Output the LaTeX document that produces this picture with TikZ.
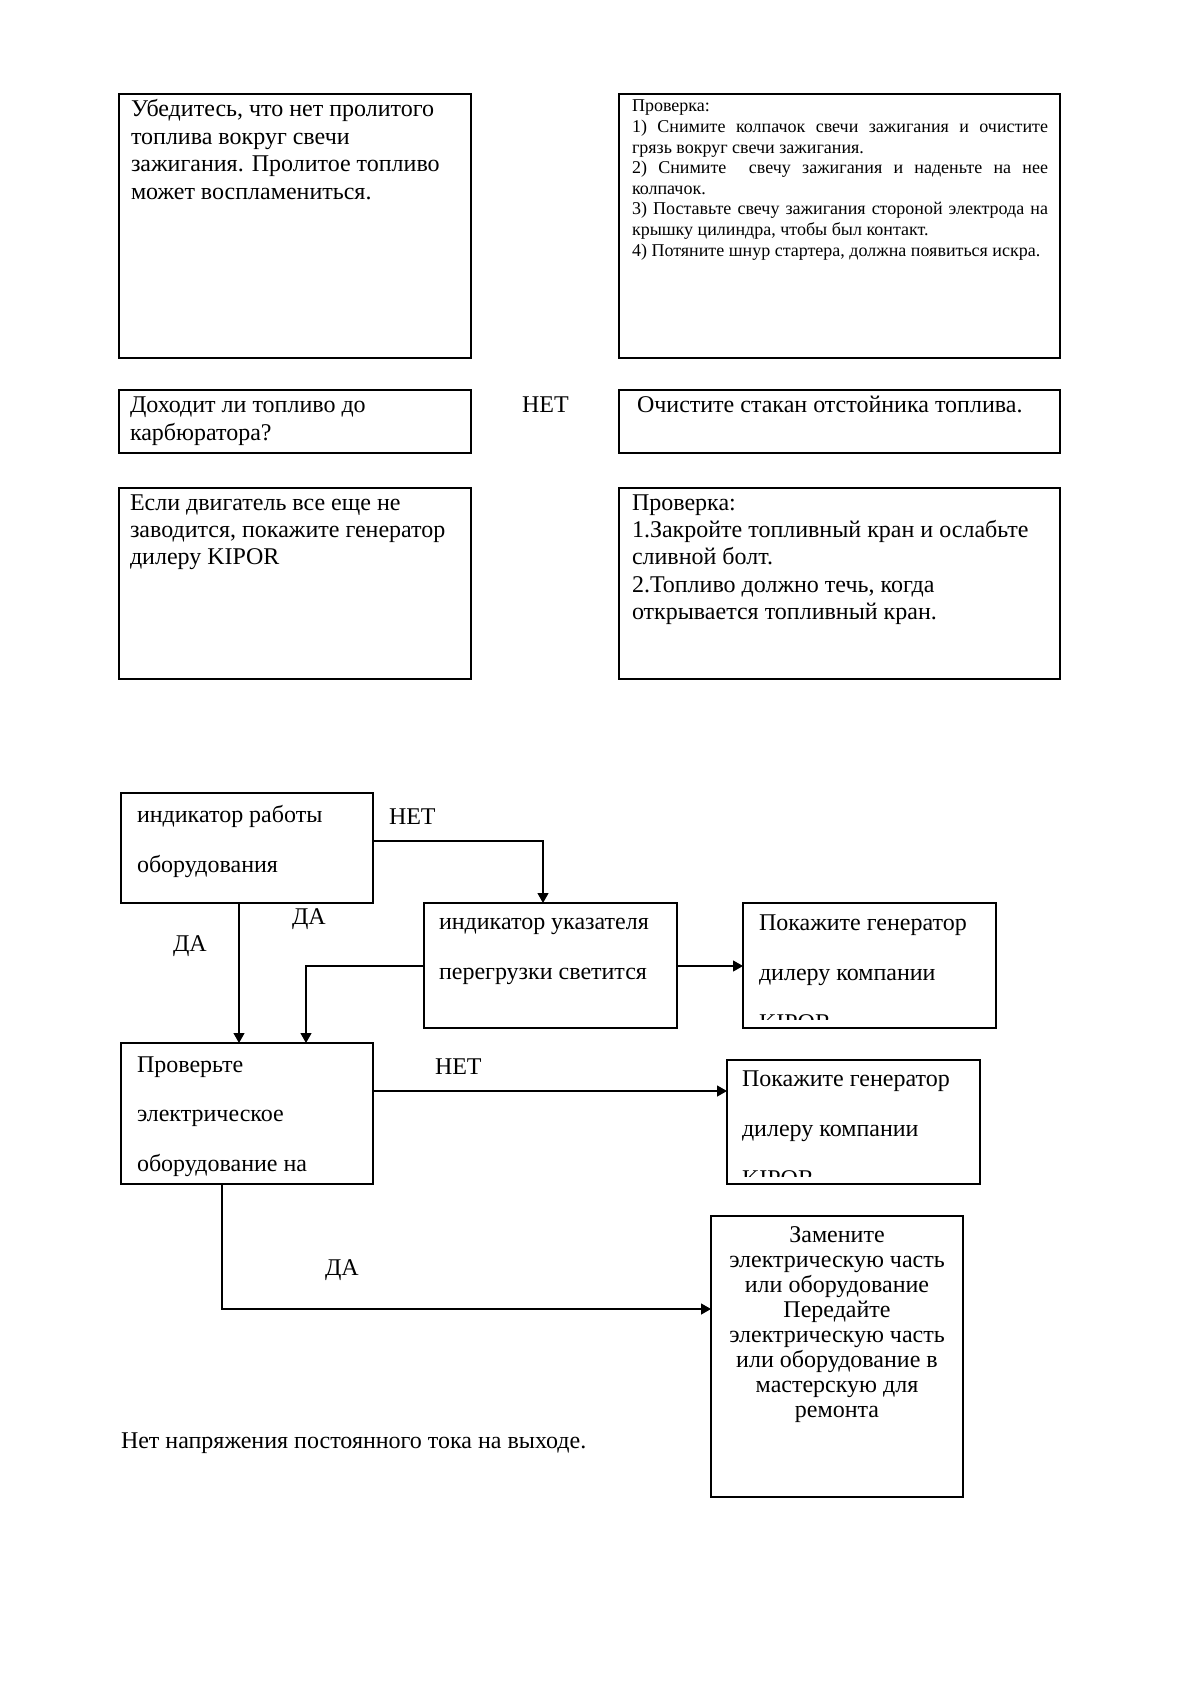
\documentclass[tikz,border=0pt]{standalone}
\usepackage{fontspec}
\setmainfont{Liberation Serif}
\usetikzlibrary{arrows.meta}
\begin{document}
\begin{tikzpicture}[x=0.5pt,y=-0.5pt,
  box/.style={draw, line width=0.8pt, anchor=north west, inner sep=0pt, outer sep=0pt},
  fbox/.style={draw, line width=0.65pt, anchor=north west, inner sep=0pt, outer sep=0pt},
  txt/.style={inner sep=0pt, outer sep=0pt, anchor=base west, font=\fontsize{12}{13.7}\selectfont},
  smalltxt/.style={txt, font=\fontsize{9}{10.3}\selectfont},
  widetxt/.style={txt, font=\fontsize{12}{25}\selectfont},
  lbl/.style={txt},
  conn/.style={line width=0.6pt},
  arr/.style={conn, -{Triangle[length=5pt,width=5.5pt]}}]
\useasboundingbox (0,0) rectangle (1191,1684);

% ---------- upper part ----------
\node[box, minimum width=176pt, minimum height=132pt] (b1) at (119,94) {};
\node[box, minimum width=220.5pt, minimum height=132pt] (b2) at (619,94) {};
\node[box, minimum width=176pt, minimum height=31.5pt] (b3) at (119,390) {};
\node[box, minimum width=220.5pt, minimum height=31.5pt] (b4) at (619,390) {};
\node[box, minimum width=176pt, minimum height=95.5pt] (b5) at (119,488) {};
\node[box, minimum width=220.5pt, minimum height=95.5pt] (b6) at (619,488) {};

\node[txt] (t1) at (131,117) {\begin{tabular}[t]{@{}l@{}}
Убедитесь, что нет пролитого\\
топлива вокруг свечи\\
зажигания. Пролитое топливо\\
может воспламениться.\end{tabular}};

\node[smalltxt] (t2) at (632,112) {\begin{tabular}[t]{@{}l@{}}
Проверка:\\
\makebox[208pt][s]{1) Снимите колпачок свечи зажигания и очистите}\\
грязь вокруг свечи зажигания.\\
\makebox[208pt][s]{2) Снимите\ \ свечу зажигания и наденьте на нее}\\
колпачок.\\
\makebox[208pt][s]{3) Поставьте свечу зажигания стороной электрода на}\\
крышку цилиндра, чтобы был контакт.\\
4) Потяните шнур стартера, должна появиться искра.\end{tabular}};

\node[txt] (t3) at (130,413) {\begin{tabular}[t]{@{}l@{}}
Доходит ли топливо до\\
карбюратора?\end{tabular}};

\node[lbl] (net0) at (522,413) {НЕТ};

\node[txt] (t4) at (637,413) {Очистите стакан отстойника топлива.};

\node[txt] (t5) at (130,510) {\begin{tabular}[t]{@{}l@{}}
Если двигатель все еще не\\
заводится, покажите генератор\\
дилеру KIPOR\end{tabular}};

\node[txt] (t6) at (632,510) {\begin{tabular}[t]{@{}l@{}}
Проверка:\\
1.Закройте топливный кран и ослабьте\\
сливной болт.\\
2.Топливо должно течь, когда\\
открывается топливный кран.\end{tabular}};

% ---------- lower part ----------
\node[fbox, minimum width=126pt, minimum height=55pt] (A) at (121,793) {};
\node[fbox, minimum width=126.5pt, minimum height=62.5pt] (B) at (424,903) {};
\node[fbox, minimum width=126.5pt, minimum height=62.5pt] (C) at (743,903) {};
\node[fbox, minimum width=126pt, minimum height=70.5pt] (D) at (121,1043) {};
\node[fbox, minimum width=126.5pt, minimum height=62pt] (E) at (727,1060) {};
\node[fbox, minimum width=126pt, minimum height=140.5pt] (F) at (711,1216) {};

\node[widetxt] (tA) at (137,822) {\begin{tabular}[t]{@{}l@{}}
индикатор работы\\
оборудования\end{tabular}};
\node[widetxt] (tB) at (439,929) {\begin{tabular}[t]{@{}l@{}}
индикатор указателя\\
перегрузки светится\end{tabular}};
\node[widetxt] (tC) at (759,930) {\begin{tabular}[t]{@{}l@{}}
Покажите генератор\\
дилеру компании\end{tabular}};
\begin{scope}
  \clip (745,905) rectangle (994,1019);
  \node[txt] (tC3) at (759,1030) {KIPOR};
\end{scope}
\node[widetxt, font=\fontsize{12}{24.8}\selectfont] (tD) at (137,1072) {\begin{tabular}[t]{@{}l@{}}
Проверьте\\
электрическое\\
оборудование на\end{tabular}};
\node[widetxt] (tE) at (742,1086) {\begin{tabular}[t]{@{}l@{}}
Покажите генератор\\
дилеру компании\end{tabular}};
\begin{scope}
  \clip (729,1062) rectangle (978,1176.5);
  \node[txt] (tE3) at (742,1186) {KIPOR};
\end{scope}
\node[txt, anchor=base, font=\fontsize{12}{12.55}\selectfont] (tF) at (837,1242) {\begin{tabular}[t]{@{}c@{}}
Замените\\
электрическую часть\\
или оборудование\\
Передайте\\
электрическую часть\\
или оборудование в\\
мастерскую для\\
ремонта\end{tabular}};

% labels
\node[lbl] (net1) at (389,824) {НЕТ};
\node[lbl] (da1) at (292,924) {ДА};
\node[lbl] (da2) at (173,951) {ДА};
\node[lbl] (net2) at (435,1074) {НЕТ};
\node[lbl] (da3) at (325,1275) {ДА};

\node[txt] (note) at (121,1448) {Нет напряжения постоянного тока на выходе.};

% connectors
\draw[arr] (A.east |- 0,841) -| (B.north -| 543,0);
\draw[arr] (A.south -| 239,0) -- (D.north -| 239,0);
\draw[arr] (B.west |- 0,966) -| (D.north -| 306,0);
\draw[arr] (B.east |- 0,966) -- (C.west |- 0,966);
\draw[arr] (D.east |- 0,1091) -- (E.west |- 0,1091);
\draw[arr] (D.south -| 222,0) |- (F.west |- 0,1309);
\end{tikzpicture}
\end{document}
